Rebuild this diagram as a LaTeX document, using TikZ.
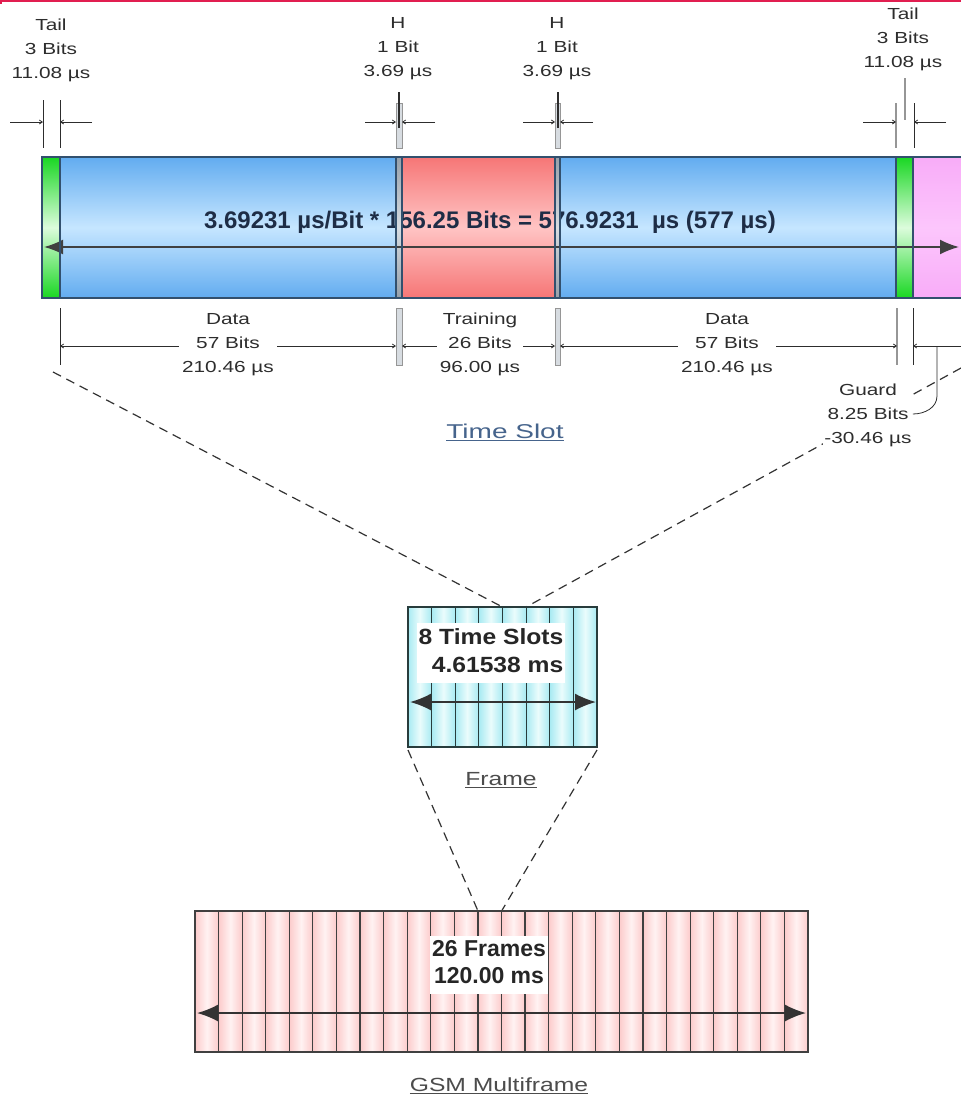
\documentclass[tikz,border=0pt]{standalone}
\usepackage{fontspec}
\setmainfont{Liberation Sans}
\usetikzlibrary{arrows.meta}
\newcommand\hs[2][1.3]{\scalebox{#1}[1]{#2}}
\definecolor{bE}{RGB}{98,172,240}
\definecolor{bL}{RGB}{198,230,255}
\definecolor{rE}{RGB}{246,118,118}
\definecolor{rL}{RGB}{255,196,196}
\definecolor{gE}{RGB}{25,215,35}
\definecolor{gL}{RGB}{220,252,220}
\definecolor{pE}{RGB}{248,172,248}
\definecolor{pL}{RGB}{252,198,252}
\definecolor{hE}{RGB}{150,160,170}
\definecolor{hL}{RGB}{215,220,225}
\definecolor{cyE}{RGB}{168,234,242}
\definecolor{cyL}{RGB}{234,252,252}
\definecolor{pkE}{RGB}{252,203,203}
\definecolor{pkL}{RGB}{255,242,242}
\definecolor{bord}{RGB}{50,80,110}
\definecolor{txt}{RGB}{45,45,45}
\definecolor{eqc}{RGB}{30,45,70}
\definecolor{tsc}{RGB}{70,100,140}
\definecolor{topred}{RGB}{225,30,80}
\definecolor{gridc}{RGB}{40,60,60}
\definecolor{greyl}{RGB}{150,150,150}
\begin{document}
\begin{tikzpicture}[x=1pt,y=1pt,
  lab/.style={font=\fontsize{16}{24}\selectfont, text=txt, inner sep=0pt},
  labw/.style={lab, fill=white, inner sep=3pt},
  dim/.style={draw=txt, line width=0.8pt},
  dimarr/.style={dim, -{Straight Barb[length=3pt,width=4pt]}},
  dimboth/.style={dim, {Straight Barb[length=3pt,width=4pt]}-{Straight Barb[length=3pt,width=4pt]}},
  ext/.style={draw=txt, line width=1pt},
  extg/.style={draw=greyl, line width=1.5pt},
  hstrip/.style={fill=hL, draw=greyl, line width=0.8pt},
  border/.style={draw=bord, line width=1.3pt},
  bigarrow/.style={draw=black!75, line width=1.8pt, {Latex[length=19pt,width=15pt]}-{Latex[length=19pt,width=15pt]}},
  boxarrow/.style={draw=black!80, line width=1.8pt, {Latex[length=21pt,width=17pt]}-{Latex[length=21pt,width=17pt]}},
  connector/.style={draw=black!80, line width=1.2pt, dash pattern=on 9pt off 6pt},
  gridl/.style={draw=gridc, line width=1.2pt},
  title/.style={font=\fontsize{19}{22}\selectfont, text=black!70, inner sep=0pt},
  boxtxt/.style={font=\bfseries\fontsize{22}{28}\selectfont, text=black!85, fill=white, inner sep=2pt}
]
\useasboundingbox (0,0) rectangle (961,-1106);
\fill[white] (0,0) rectangle (961,-1106);
\draw[topred, line width=2pt] (0,-1) -- (961,-1);
\draw[topred, line width=1.5pt] (0.75,0) -- (0.75,-4);

% ---------- time slot bar ----------
\shade[top color=gE, bottom color=gE, middle color=gL] (42,-157) rectangle (60,-298);
\shade[top color=bE, bottom color=bE, middle color=bL] (60,-157) rectangle (396,-298);
\shade[top color=rE, bottom color=rE, middle color=rL] (402,-157) rectangle (555,-298);
\shade[top color=bE, bottom color=bE, middle color=bL] (560,-157) rectangle (896,-298);
\shade[top color=gE, bottom color=gE, middle color=gL] (896,-157) rectangle (913,-298);
\shade[top color=pE, bottom color=pE, middle color=pL] (913,-157) rectangle (962,-298);

\node[font=\bfseries\fontsize{24}{28}\selectfont, text=eqc, inner sep=0pt] (eq) at (490,-222)
  {3.69231 µs/Bit * 156.25 Bits = 576.9231\ \ µs (577 µs)};

\shade[top color=hE, bottom color=hE, middle color=hL] (396,-157) rectangle (402,-298);
\shade[top color=hE, bottom color=hE, middle color=hL] (555,-157) rectangle (560,-298);

\coordinate (arL) at (44,-247);
\coordinate (arR) at (959,-247);
\draw[bigarrow] (arL) -- (arR);

\draw[border] (962,-157) -- (42,-157) -- (42,-298) -- (962,-298);
\foreach \xx in {60,396,402,555,560,896,913}
  \draw[border] (\xx,-157) -- (\xx,-298);

% ---------- top labels and dimensions ----------
\node[lab] (tailL) at (51,-50) {\hs{\begin{tabular}{@{}c@{}}Tail\\3 Bits\\11.08 µs\end{tabular}}};
\node[lab] (h1) at (398,-48) {\hs{\begin{tabular}{@{}c@{}}H\\1 Bit\\3.69 µs\end{tabular}}};
\node[lab] (h2) at (557,-48) {\hs{\begin{tabular}{@{}c@{}}H\\1 Bit\\3.69 µs\end{tabular}}};
\node[lab] (tailR) at (903,-39) {\hs{\begin{tabular}{@{}c@{}}Tail\\3 Bits\\11.08 µs\end{tabular}}};

\draw[ext] (43,-100) -- (43,-148);
\draw[ext] (60,-100) -- (60,-148);
\draw[dimarr] (10,-122) -- (43,-122);
\draw[dimarr] (92,-122) -- (60,-122);

\draw[hstrip] (396,-103) rectangle (402,-148);
\draw[ext, line width=1.5pt] (399,-92) -- (399,-128);
\draw[dimarr] (365,-122) -- (396,-122);
\draw[dimarr] (435,-122) -- (402,-122);

\draw[hstrip] (555,-103) rectangle (560,-148);
\draw[ext, line width=1.5pt] (558,-92) -- (558,-128);
\draw[dimarr] (523,-122) -- (555,-122);
\draw[dimarr] (593,-122) -- (560,-122);

\draw[extg] (896,-103) -- (896,-148);
\draw[extg] (905,-78) -- (905,-120);
\draw[ext] (914,-103) -- (914,-148);
\draw[dimarr] (863,-122) -- (896,-122);
\draw[dimarr] (946,-122) -- (914,-122);

% ---------- bottom dimensions ----------
\draw[ext] (60,-308) -- (60,-365);
\draw[hstrip] (396,-308) rectangle (402,-365);
\draw[hstrip] (555,-308) rectangle (560,-365);
\draw[extg] (897,-308) -- (897,-365);
\draw[ext] (913,-308) -- (913,-365);

\draw[dimboth] (60,-346) -- (396,-346);
\draw[dimboth] (402,-346) -- (555,-346);
\draw[dimboth] (560,-346) -- (897,-346);
\draw[dimarr] (961,-346) -- (913,-346);

\node[labw] (data1) at (228,-344) {\hs{\begin{tabular}{@{}c@{}}Data\\57 Bits\\210.46 µs\end{tabular}}};
\node[labw] (train) at (480,-344) {\hs{\begin{tabular}{@{}c@{}}Training\\26 Bits\\96.00 µs\end{tabular}}};
\node[labw] (data2) at (727,-344) {\hs{\begin{tabular}{@{}c@{}}Data\\57 Bits\\210.46 µs\end{tabular}}};

% ---------- dashed connectors to frame ----------
\coordinate (tsL) at (53,-372);
\coordinate (tsR) at (961,-368);
\coordinate (fsL) at (502.5,-607);
\coordinate (fsR) at (526.1,-607);
\draw[connector] (tsL) -- (fsL);
\draw[connector] (tsR) -- (fsR);

\node[labw, inner sep=1pt] (guard) at (868,-415) {\hs{\begin{tabular}{@{}c@{}}Guard\\8.25 Bits\\-30.46 µs\end{tabular}}};
\draw[dim] (937,-346) -- (937,-396) to[out=-90,in=0] (guard.east |- 0,-414);

\node[font=\fontsize{20}{24}\selectfont, text=tsc, inner sep=0pt] (tslot) at (505,-432) {\hs[1.4]{\underline{Time Slot}}};

% ---------- frame ----------
\foreach \i in {0,...,7}
  \shade[left color=cyE, right color=cyE, middle color=cyL] ({408+\i*23.625},-607) rectangle ({408+(\i+1)*23.625},-747);
\foreach \i in {1,...,7}
  \draw[gridl] ({408+\i*23.625},-607) -- ++(0,-140);
\draw[gridl] (408,-607) rectangle (597,-747);
\node[boxtxt] (ftxt) at (491,-653) {\hs[1.12]{\begin{tabular}{@{}r@{}}8 Time Slots\\4.61538 ms\end{tabular}}};
\coordinate (faL) at (410,-702);
\coordinate (faR) at (596,-702);
\draw[boxarrow] (faL) -- (faR);
\node[title] (frame) at (501,-780) {\hs{\underline{Frame}}};

% ---------- dashed connectors to multiframe ----------
\coordinate (fbL) at (408,-750);
\coordinate (fbR) at (597,-750);
\coordinate (mfL) at (478.0,-911);
\coordinate (mfR) at (501.6,-911);
\draw[connector] (fbL) -- (mfL);
\draw[connector] (fbR) -- (mfR);

% ---------- multiframe ----------
\foreach \i in {0,...,25}
  \shade[left color=pkE, right color=pkE, middle color=pkL] ({195+\i*23.577},-911) rectangle ({195+(\i+1)*23.577},-1052);
\foreach \i in {1,...,25}
  \draw[gridl, draw=black!75] ({195+\i*23.577},-911) -- ++(0,-141);
\draw[gridl, draw=black!75] (195,-911) rectangle (808,-1052);
\node[boxtxt, font=\bfseries\fontsize{23}{27}\selectfont] (mtxt) at (489,-965) {\begin{tabular}{@{}c@{}}26 Frames\\120.00 ms\end{tabular}};
\coordinate (maL) at (197,-1013);
\coordinate (maR) at (806,-1013);
\draw[boxarrow] (maL) -- (maR);
\node[title] (multi) at (499,-1086) {\hs{\underline{GSM Multiframe}}};
\end{tikzpicture}
\end{document}
